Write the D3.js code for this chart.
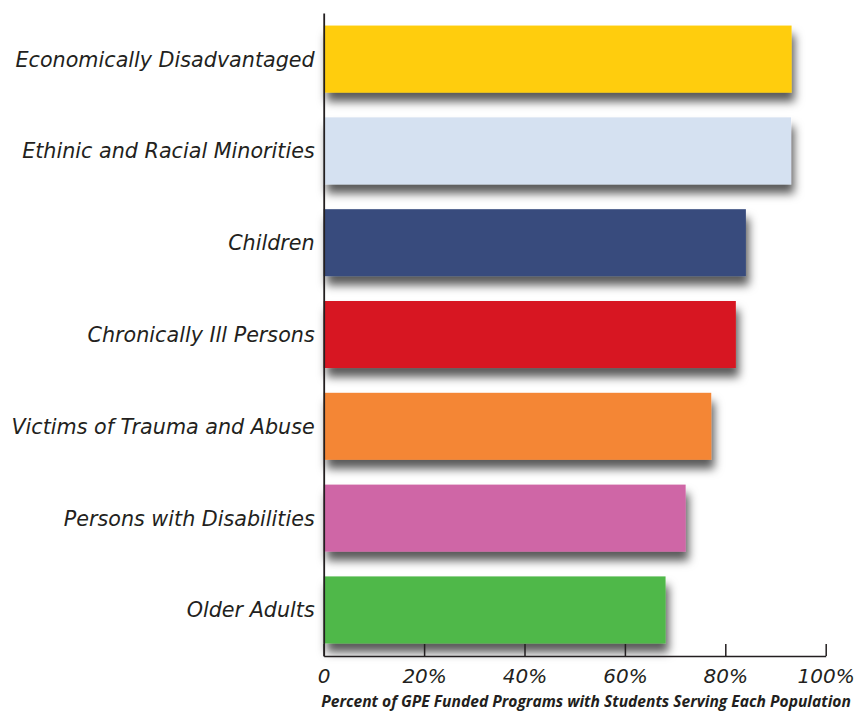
<!DOCTYPE html>
<html>
<head>
<meta charset="utf-8">
<script src="https://cdn.jsdelivr.net/npm/d3@7"></script>
<style>
    body { margin: 0; background: #fff; }
    text { fill: #231f20; }
</style>
</head>
<body>
<div id="chart"></div>
<script>
// Populations, top to bottom
const populations = [
    "Economically Disadvantaged",
    "Ethinic and Racial Minorities",
    "Children",
    "Chronically Ill Persons",
    "Victims of Trauma and Abuse",
    "Persons with Disabilities",
    "Older Adults"
];

// Percent of programs
const percents = [93.2, 93.1, 84.1, 82.1, 77.2, 72.1, 68.1];

const barColors = ["#ffcd0a", "#d5e1f1", "#394b7d", "#d71920", "#f48634", "#cf66a6", "#50b848"];

const tickValues = [0, 20, 40, 60, 80, 100];

const axisTitle = "Percent of GPE Funded Programs with Students Serving Each Population";

const width = 856;
const height = 711;

const svg = d3.select("#chart")
    .append("svg")
    .attr("width", width)
    .attr("height", height);

// Soft drop shadow under each bar
const filter = svg.append("defs")
    .append("filter")
    .attr("id", "shadow")
    .attr("x", "-10%")
    .attr("y", "-30%")
    .attr("width", "125%")
    .attr("height", "180%");

filter.append("feDropShadow")
    .attr("dx", 3)
    .attr("dy", 9)
    .attr("stdDeviation", 5)
    .attr("flood-color", "#000")
    .attr("flood-opacity", 0.65);

const x = d3.scaleLinear()
    .domain([0, 100])
    .range([323.7, 825.7]);

const y = d3.scaleBand()
    .domain(populations)
    .range([13, 656])
    .paddingInner(0.27)
    .paddingOuter(0.137);

// Bars
svg.selectAll("rect.bar")
    .data(populations)
    .enter()
    .append("rect")
    .attr("class", "bar")
    .attr("x", x(0))
    .attr("y", function(d) { return y(d); })
    .attr("width", function(d, i) { return x(percents[i]) - x(0); })
    .attr("height", y.bandwidth())
    .attr("fill", function(d, i) { return barColors[i]; })
    .attr("filter", "url(#shadow)");

// Bottom axis with short upward ticks
const xAxis = svg.append("g")
    .attr("transform", "translate(0," + 656 + ")")
    .call(d3.axisBottom(x)
        .tickValues(tickValues)
        .tickSize(-12)
        .tickSizeOuter(0)
        .tickPadding(13)
        .tickFormat(function(d) { return d === 0 ? "0" : d + "%"; }));

xAxis.select(".domain")
    .attr("stroke", "#231f20")
    .attr("stroke-width", 1.5);

xAxis.selectAll(".tick line")
    .attr("stroke", "#231f20")
    .attr("stroke-width", 1.5);

xAxis.selectAll(".tick text")
    .attr("fill", "#231f20")
    .style("font-family", "'DejaVu Sans', sans-serif")
    .style("font-style", "italic")
    .style("font-size", "20px");

// Left axis with category labels
const yAxis = svg.append("g")
    .attr("transform", "translate(" + x(0) + ",0)")
    .call(d3.axisLeft(y)
        .tickSize(0)
        .tickSizeOuter(0)
        .tickPadding(9));

yAxis.select(".domain")
    .attr("stroke", "#231f20")
    .attr("stroke-width", 1.8);

yAxis.selectAll(".tick text")
    .attr("fill", "#231f20")
    .attr("dy", "0.36em")
    .style("font-family", "'DejaVu Sans', sans-serif")
    .style("font-style", "italic")
    .style("font-size", "20.7px");

// Axis title
svg.append("text")
    .attr("x", 586)
    .attr("y", 707)
    .attr("text-anchor", "middle")
    .style("font-family", "'Open Sans', sans-serif")
    .style("font-style", "italic")
    .style("font-weight", "bold")
    .style("font-size", "15.6px")
    .text(axisTitle);
</script>
</body>
</html>
